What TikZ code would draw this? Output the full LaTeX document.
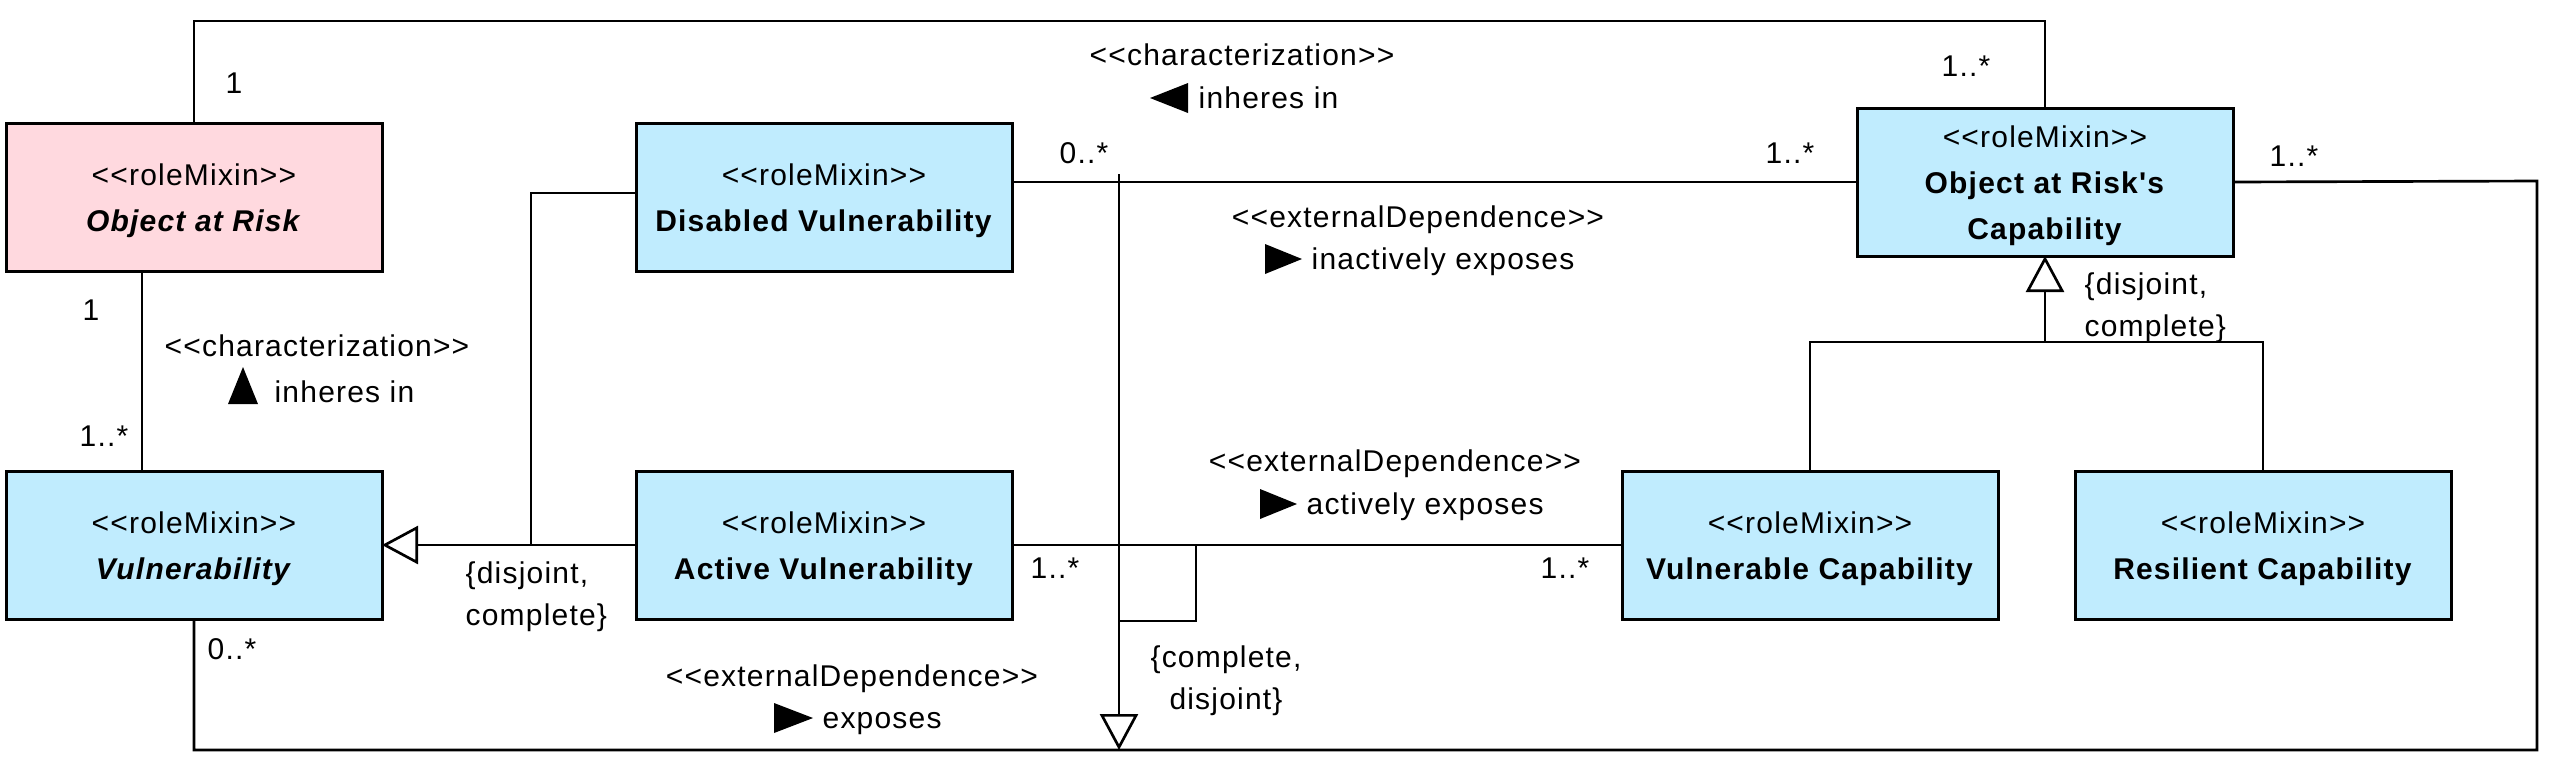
\documentclass[tikz,border=0pt]{standalone}
\usepackage{fontspec}
\newfontfamily\uml{Liberation Sans}[LetterSpace=4]
\usetikzlibrary{arrows.meta,calc}
\definecolor{umlblue}{HTML}{C0ECFE}
\definecolor{umlpink}{HTML}{FFD9DF}
\newcommand{\topstrut}{\rule{0pt}{9pt}}
\tikzset{
  umlbox/.style={draw, line width=0.9pt, minimum width=112.8pt, minimum height=44.4pt,
    inner sep=0pt, outer sep=0pt, align=center, font=\uml\fontsize{9}{13.8}\selectfont},
  bluebox/.style={umlbox, fill=umlblue},
  pinkbox/.style={umlbox, fill=umlpink},
  lbl/.style={inner sep=0pt, font=\uml\fontsize{9}{12.6}\selectfont, text height=6.5pt, text depth=0pt},
  mlbl/.style={inner sep=0pt, font=\uml\fontsize{9}{12.6}\selectfont},
  conn/.style={line width=0.8pt},
  gen/.style={conn, -{Triangle[open, length=10.8pt, width=11.4pt, fill=white]}},
  dirtri/.style={fill=black},
}
\begin{document}
\begin{tikzpicture}[x=0.3pt, y=-0.3pt]
\useasboundingbox (0,0) rectangle (2550,762);

% classes
\node[pinkbox] (oar) at (194,197) {\topstrut<<roleMixin>>\\\textbf{\textit{Object at Risk}}};
\node[bluebox] (dv)  at (824,197) {\topstrut<<roleMixin>>\\\textbf{Disabled Vulnerability}};
\node[bluebox] (orc) at (2045,182) {\topstrut<<roleMixin>>\\\textbf{Object at Risk's}\\\textbf{Capability}};
\node[bluebox] (vul) at (194,545) {\topstrut<<roleMixin>>\\\textbf{\textit{Vulnerability}}};
\node[bluebox] (av)  at (824,545) {\topstrut<<roleMixin>>\\\textbf{Active Vulnerability}};
\node[bluebox] (vc)  at (1810,545) {\topstrut<<roleMixin>>\\\textbf{Vulnerable Capability}};
\node[bluebox] (rc)  at (2263,545) {\topstrut<<roleMixin>>\\\textbf{Resilient Capability}};

% helper coordinates
\coordinate (topl) at (194,21);
\coordinate (topr) at (2045,21);
\coordinate (bl) at (194,750);
\coordinate (br) at (2537,750);
\coordinate (tr) at (2537,181);
\coordinate (j1) at (531,545);
\coordinate (bar) at (2045,342);
\coordinate (ga) at (1119,174);
\coordinate (gb) at (1119,750);
\coordinate (k1) at (1196,545);
\coordinate (k2) at (1119,621);

% associations
\draw[conn] (oar.north) -- (topl) -- (topr) -- (orc.north);
\draw[conn] ($(oar.south)+(-52,0)$) -- ($(vul.north)+(-52,0)$);
\draw[conn] (dv.east |- orc.west) -- (orc.west);
\draw[conn] (av.east) -- (vc.west);
\draw[conn] (vul.south) -- (bl) -- (br) -- (tr) -- (orc.east);

% generalizations
\draw[gen] (av.west) -- (vul.east);
\draw[conn] ($(dv.west)+(0,-4)$) -| (j1);
\draw[conn] (vc.north) |- (bar) -| (rc.north);
\draw[gen] (bar) -- (orc.south);
\draw[gen] (ga) -- (gb);
\draw[conn] (k1) |- (k2);

% multiplicities
\node[lbl] (m1) at (234,83) {1};
\node[lbl] (m2) at (1966,66) {1..*};
\node[lbl] (m3) at (91,310) {1};
\node[lbl] (m4) at (104,436) {1..*};
\node[lbl] (m5) at (1084,153) {0..*};
\node[lbl] (m6) at (1790,153) {1..*};
\node[lbl] (m7) at (2294,156) {1..*};
\node[lbl] (m8) at (1055,568) {1..*};
\node[lbl] (m9) at (1565,568) {1..*};
\node[lbl] (m10) at (232,649) {0..*};

% stereotypes
\node[lbl] (s1) at (1242,55) {<<characterization>>};
\node[lbl] (s2) at (317,346) {<<characterization>>};
\node[lbl] (s3) at (1418,217) {<<externalDependence>>};
\node[lbl] (s4) at (1395,461) {<<externalDependence>>};
\node[lbl] (s5) at (852,676) {<<externalDependence>>};

% association names with direction triangles
\node[lbl, anchor=west] (n1) at (1198,98) {inheres in};
\fill[dirtri] ($(n1.west)+(-10,-15)$) -- ($(n1.west)+(-48,0)$) -- ($(n1.west)+(-10,15)$) -- cycle;
\node[lbl, anchor=west] (n2) at (274,392) {inheres in};
\fill[dirtri] ($(n2.west)+(-16,12)$) -- ($(n2.west)+(-46,12)$) -- ($(n2.west)+(-31,-25)$) -- cycle;
\node[lbl, anchor=west] (n3) at (1311,259) {inactively exposes};
\fill[dirtri] ($(n3.west)+(-9,0)$) -- ($(n3.west)+(-46,-15)$) -- ($(n3.west)+(-46,15)$) -- cycle;
\node[lbl, anchor=west] (n4) at (1306,504) {actively exposes};
\fill[dirtri] ($(n4.west)+(-9,0)$) -- ($(n4.west)+(-46,-15)$) -- ($(n4.west)+(-46,15)$) -- cycle;
\node[lbl, anchor=west] (n5) at (822,718) {exposes};
\fill[dirtri] ($(n5.west)+(-9,0)$) -- ($(n5.west)+(-48,-15)$) -- ($(n5.west)+(-48,15)$) -- cycle;

% generalization set constraints
\node[mlbl, anchor=west, align=left] (c1) at (465,597) {\{disjoint,\\complete\}};
\node[mlbl, anchor=west, align=left] (c2) at (2084,308) {\{disjoint,\\complete\}};
\node[mlbl, align=center] (c3) at (1226,681) {\{complete,\\disjoint\}};
\end{tikzpicture}
\end{document}
